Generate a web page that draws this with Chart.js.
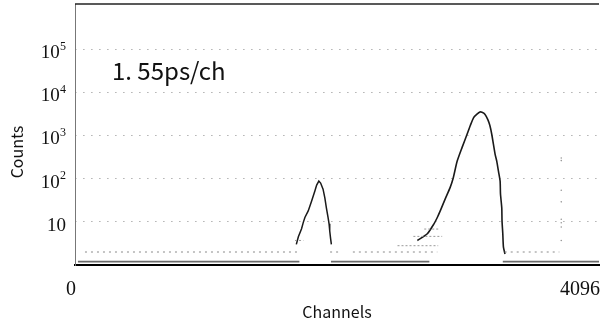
<!DOCTYPE html>
<html>
<head>
<meta charset="utf-8">
<script src="https://cdn.jsdelivr.net/npm/chart.js@4.4.1/dist/chart.umd.min.js"></script>
<style>
  html, body { margin: 0; padding: 0; background: #fff; }
  #wrap { width: 603px; height: 329px; }
</style>
</head>
<body>
<div id="wrap"><canvas id="chart" width="603" height="329"></canvas></div>
<script>
// --- DATA ---
const xTicks = [0, 4096];
const xTickLabels = ['0', '4096'];
const yTicks = [10, 100, 1000, 10000, 100000];
const yTickExp = ['', '2', '3', '4', '5'];

// small peak near channel 1900
const smallPeakCh = [1730, 1746, 1771, 1784, 1797, 1823, 1849, 1875, 1889, 1906, 1920, 1939, 1953, 1965, 1978, 1986, 1991, 1998, 2004];
const smallPeakCounts = [3, 4.5, 6.9, 9.6, 12.6, 17.9, 30, 52, 71, 88, 79, 57, 36, 21, 12.6, 9, 6.2, 4.1, 3];

// main peak near channel 3170
const bigPeakCh = [2676, 2754, 2806, 2832, 2855, 2894, 2932, 2956, 2987, 3026, 3064, 3090, 3116, 3142, 3165, 3181, 3204, 3227, 3243, 3258, 3284, 3297, 3310, 3323, 3326, 3336, 3338, 3344, 3349, 3361];
const bigPeakCounts = [3.7, 5.3, 9, 12.6, 17.9, 34, 62, 102, 252, 530, 1050, 1700, 2600, 3120, 3500, 3450, 3120, 2330, 1700, 1054, 366, 252, 149, 88, 44, 21, 10.5, 5.3, 2.6, 1.8];

// flat rows of 1 and 2 counts away from the peaks
const oneRowStart = [23, 2001, 3344];
const oneRowEnd = [1754, 2770, 4096];
const twoRowStart = [78, 1994, 2172, 3359];
const twoRowEnd = [1761, 2071, 2832, 3786];

// short rows on the low side of the peaks
const tailStart = [1720, 2521, 2645, 2730];
const tailEnd = [1785, 2839, 2870, 2855];
const tailCounts = [3.7, 2.8, 4.6, 6.8];

// isolated column of points
const markerCh = 3801;
const markerCounts = [300, 262, 54, 29, 11.5, 9.5, 7.6, 3.7];

// --- helpers ---
function rows(starts, ends, values) {
  const out = [];
  starts.forEach((s, i) => {
    const v = Array.isArray(values) ? values[i] : values;
    out.push({ x: s, y: v }, { x: ends[i], y: v }, { x: ends[i], y: null });
  });
  return out;
}

function pairs(xs, ys) {
  return xs.map((x, i) => ({ x, y: ys[i] }));
}

// text, frame and 10^n labels
const textPlugin = {
  id: 'textPlugin',
  afterDraw(chart) {
    const { ctx, chartArea, scales } = chart;
    ctx.save();

    ctx.strokeStyle = '#222';
    ctx.lineWidth = 1.5;
    ctx.beginPath();
    ctx.moveTo(chartArea.left, chartArea.top);
    ctx.lineTo(chartArea.right, chartArea.top);
    ctx.stroke();

    ctx.fillStyle = '#111';
    ctx.textBaseline = 'alphabetic';
    ctx.textAlign = 'right';
    yTicks.forEach((v, i) => {
      const y = scales.y.getPixelForValue(v);
      let right = 66;
      if (yTickExp[i]) {
        ctx.font = '12px "Liberation Serif"';
        ctx.fillText(yTickExp[i], right, y + 0.5);
        right -= ctx.measureText(yTickExp[i]).width + 0.3;
      }
      ctx.font = '19px "Liberation Serif"';
      ctx.fillText('10', right, y + 9);
    });

    ctx.font = '20px "Liberation Serif"';
    xTicks.forEach((v, i) => {
      const x = scales.x.getPixelForValue(v);
      ctx.fillText(xTickLabels[i], Math.min(x + 1, 602), 295);
    });

    ctx.textAlign = 'left';
    ctx.font = '24px "Noto Sans CJK JP"';
    ctx.fillText('1. 55ps/ch', 112, 80);

    ctx.textAlign = 'center';
    ctx.font = '16px "Noto Sans CJK JP"';
    ctx.fillText('Channels', 337, 318);

    ctx.translate(23, 152);
    ctx.rotate(-Math.PI / 2);
    ctx.fillText('Counts', 0, 0);

    ctx.restore();
  }
};

const ctx = document.getElementById('chart').getContext('2d');
new Chart(ctx, {
  type: 'line',
  data: {
    datasets: [
      { data: rows(oneRowStart, oneRowEnd, 1.2), borderColor: '#6a6a6a', borderWidth: 1.6, pointRadius: 0, spanGaps: false },
      { data: rows(twoRowStart, twoRowEnd, 2), borderColor: '#8a8a8a', borderWidth: 1, borderDash: [2, 4], pointRadius: 0, spanGaps: false },
      { data: rows(tailStart, tailEnd, tailCounts), borderColor: '#999', borderWidth: 1, borderDash: [2, 2], pointRadius: 0, spanGaps: false },
      { data: pairs(smallPeakCh, smallPeakCounts), borderColor: '#1a1a1a', borderWidth: 1.5, pointRadius: 0 },
      { data: pairs(bigPeakCh, bigPeakCounts), borderColor: '#1a1a1a', borderWidth: 1.6, pointRadius: 0, tension: 0.2 },
      { data: markerCounts.map(c => ({ x: markerCh, y: c })), showLine: false, pointRadius: 0.8, pointBackgroundColor: '#999', pointBorderWidth: 0 }
    ]
  },
  options: {
    responsive: false,
    animation: false,
    layout: { padding: { top: 2, left: 0, right: 0, bottom: 0 } },
    plugins: { legend: { display: false }, tooltip: { enabled: false } },
    scales: {
      x: {
        type: 'linear', min: 0, max: 4096,
        afterBuildTicks: s => { s.ticks = xTicks.map(v => ({ value: v })); },
        afterFit: s => { s.height = 64; },
        ticks: { display: false },
        grid: { display: false },
        border: { display: true, color: '#000', width: 2 }
      },
      y: {
        type: 'logarithmic', min: 1, max: 1.11e6,
        afterBuildTicks: s => { s.ticks = yTicks.map(v => ({ value: v })); },
        afterFit: s => { s.width = 75; },
        ticks: { display: false },
        grid: { color: '#8a8a8a', lineWidth: 1, drawTicks: false },
        border: { display: true, color: '#777', width: 1, dash: [1, 7], dashOffset: 0.6 }
      }
    }
  },
  plugins: [textPlugin]
});
</script>
</body>
</html>
